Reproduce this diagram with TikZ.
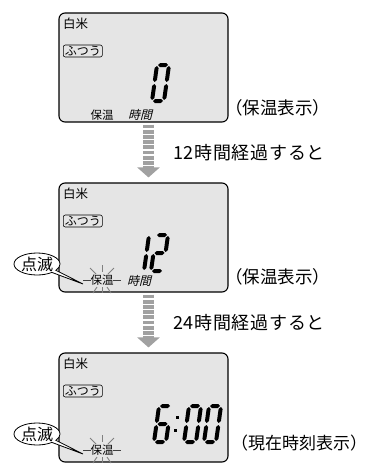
\documentclass[tikz,border=0pt]{standalone}
\usepackage{fontspec}
\setmainfont{Noto Sans CJK JP}
\newfontfamily\slantjp[FakeSlant=0.25]{Noto Sans CJK JP}
\newfontfamily\widejp[LetterSpace=4]{Noto Sans CJK JP}
\usetikzlibrary{arrows.meta,shapes.callouts}
\definecolor{lcdgray}{gray}{0.9}
\definecolor{arrowgray}{gray}{0.63}
% seven-segment pieces (local units, digit 12 wide and 36 high)
\newcommand{\hseg}[3]{(#1,#2) -- (#1+2,#2+2) -- (#3-2,#2+2) -- (#3,#2) -- (#3-2,#2-2) -- (#1+2,#2-2) -- cycle}
\newcommand{\vseg}[3]{(#1,#2) -- (#1+2,#2+2) -- (#1+2,#3-2) -- (#1,#3) -- (#1-2,#3-2) -- (#1-2,#2+2) -- cycle}
\newcommand{\lcdsega}{\hseg{1}{36}{11}}
\newcommand{\lcdsegb}{\vseg{12}{19}{35}}
\newcommand{\lcdsegc}{\vseg{12}{1}{17}}
\newcommand{\lcdsegd}{\hseg{1}{0}{11}}
\newcommand{\lcdsege}{\vseg{0}{1}{17}}
\newcommand{\lcdsegf}{\vseg{0}{19}{35}}
\newcommand{\lcdsegg}{\hseg{1}{18}{11}}
\newcommand{\lcddigit}[3]{%
  \begin{scope}[shift={(#1,#2)}, y=1pt, xslant=0.14]
    \foreach \s in {#3} {\expandafter\fill\csname lcdseg\s\endcsname;}
  \end{scope}}
\newcommand{\sparkle}[1]{%
  \draw[ray, draw=black!75] ([shift={(-19,0)}]#1.center) -- ++(8,0);
  \draw[ray, draw=black!75] ([shift={(11,0)}]#1.center) -- ++(8,0);
  \draw[ray] ([shift={(0,-15)}]#1.center) -- ++(0,7);
  \draw[ray] ([shift={(0,7)}]#1.center) -- ++(0,6);
  \draw[ray] ([shift={(-12,-12)}]#1.center) -- ++(6,6);
  \draw[ray] ([shift={(12,-12)}]#1.center) -- ++(-6,6);
  \draw[ray] ([shift={(-9,13)}]#1.center) -- ++(4,-6);
  \draw[ray] ([shift={(9,13)}]#1.center) -- ++(-4,-6);}

\begin{document}
\begin{tikzpicture}[x=1pt, y=-1pt,
  panel/.style={draw, line width=1.1pt, rounded corners=6pt, fill=lcdgray,
    minimum width=169pt, minimum height=109pt, inner sep=0pt},
  tiny/.style={font=\fontsize{11.5}{11.5}\selectfont, inner sep=0pt},
  modebox/.style={tiny, font=\fontsize{12}{12}\selectfont, draw, line width=0.6pt,
    rounded corners=2pt, inner xsep=1.5pt, inner ysep=1pt, anchor=west},
  note/.style={font=\fontsize{17.5}{17.5}\selectfont, inner sep=0pt, anchor=west},
  blink/.style={ellipse callout, draw, line width=0.8pt, fill=white,
    minimum width=46pt, minimum height=22pt, inner sep=0pt,
    font=\fontsize{16}{16}\selectfont},
  ray/.style={draw=gray, line width=0.9pt},
  elapse/.style={draw=arrowgray, line width=11pt, dash pattern=on 3.8pt off 1.4pt,
    -{Triangle[width=22pt,length=10pt]}, shorten <=2pt, shorten >=5pt}]
  \useasboundingbox (0,0) rectangle (372,464);

  % warm display, 0 hours
  \node[panel] (p1) at (143.5,67.5) {};
  \node[tiny, anchor=west, font=\fontsize{12.5}{12.5}\selectfont] (rice1) at (63,24) {白米};
  \node[modebox] (mode1) at (63,51) {ふつう};
  \lcddigit{152}{101}{a,b,c,d,e,f}
  \node[tiny] (keep1) at (102,115) {保温};
  \node[tiny, font=\slantjp\fontsize{12}{12}\selectfont] (hours1) at (140,115) {時間};
  \node[note] (state1) at (225,108) {（保温表示）};

  % warm display, 12 hours
  \node[panel] (p2) at (143.5,237.5) {};
  \node[tiny, anchor=west, font=\fontsize{12.5}{12.5}\selectfont] (rice2) at (63,194) {白米};
  \node[modebox] (mode2) at (63,221) {ふつう};
  \lcddigit{144}{271}{e,f}
  \lcddigit{151}{271}{a,b,g,e,d}
  \node[tiny] (keep2) at (102,280) {保温};
  \node[tiny, font=\slantjp\fontsize{12}{12}\selectfont] (hours2) at (139,281) {時間};
  \node[note] (state2) at (225,277) {（保温表示）};
  \sparkle{keep2}
  \node[blink, callout absolute pointer={(83,284)}] (flash2) at (37,264) {点滅};

  % clock display
  \node[panel] (p3) at (143.5,407.5) {};
  \node[tiny, anchor=west, font=\fontsize{12.5}{12.5}\selectfont] (rice3) at (63,364) {白米};
  \node[modebox] (mode3) at (63,391) {ふつう};
  \lcddigit{154}{442}{a,f,g,e,d,c}
  \fill (175.5,415.5) rectangle ++(3,3);
  \fill (173.8,428.5) rectangle ++(3,3);
  \lcddigit{184}{442}{a,b,c,d,e,f}
  \lcddigit{204}{442}{a,b,c,d,e,f}
  \node[tiny] (keep3) at (102,450) {保温};
  \node[note, font=\fontsize{17}{17}\selectfont] (state3) at (231,443) {（現在時刻表示）};
  \sparkle{keep3}
  \node[blink, callout absolute pointer={(83,454)}] (flash3) at (37,434) {点滅};

  \draw[elapse] ([xshift=5pt]p1.south) -- node[note, font=\widejp\fontsize{18}{18}\selectfont, right=19pt] {12時間経過すると} ([xshift=5pt]p2.north);
  \draw[elapse] ([xshift=5pt]p2.south) -- node[note, font=\widejp\fontsize{18}{18}\selectfont, right=19pt] {24時間経過すると} ([xshift=5pt]p3.north);
\end{tikzpicture}
\end{document}
